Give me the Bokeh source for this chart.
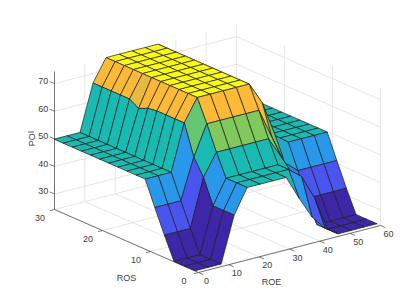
from bokeh.plotting import figure
from bokeh.embed import file_html
from bokeh.resources import INLINE
from bokeh.core.properties import value

# ---- data ----
ROE = [0, 4.29, 8.57, 12.86, 17.14, 21.43, 25.71, 30, 34.29, 38.57, 42.86, 47.14, 51.43, 55.71, 60]
ROS = [0.7, 2.9, 5.1, 7.1, 9.1, 11.1, 13, 14.9, 16.8, 18.7, 20.6, 22.5, 24.4, 26.3, 28.2, 30.1]
low = [24.5, 24.5, 24.5, 32.5, 41, 49.8, 49.8, 49.8, 49.8, 49.8, 49.8, 49.8, 49.8, 49.8, 49.8, 49.8]
top = [49.8, 49.8, 49.8, 57.7, 66.5, 74.5, 74.5, 74.5, 74.5, 74.5, 74.5, 74.5, 74.5, 74.5, 74.5, 74.5]
POI = [
    low,
    low,
    low,
    [41, 41, 41, 49.8, 55.6, 66.5, 66.5, 66.5, 66.5, 66, 64.5, 66.5, 66.5, 66.5, 66.5, 66.5],
    top,
    top,
    top,
    top,
    [41, 49.8, 49.8, 57.7, 66.5, 74.5, 74.5, 74.5, 74.5, 74.5, 74.5, 74.5, 74.5, 74.5, 74.5, 74.5],
    [33, 46, 46, 49.8, 55.6, 66.5, 66.5, 66.5, 66.5, 66.5, 66.5, 66.5, 66.5, 66.5, 66.5, 66.5],
    [27.7, 37, 37, 37, 45, 53.4, 53.4, 53.4, 53.4, 53.4, 53.4, 53.4, 53.4, 53.4, 53.4, 53.4],
    low,
    low,
    low,
    low,
]
ROE_TICKS = [0, 10, 20, 30, 40, 50, 60]
ROS_TICKS = [0, 10, 20, 30]
POI_TICKS = [30, 40, 50, 60, 70]
ROE_LIM = (0, 60)
ROS_LIM = (0, 30)
POI_LIM = (24.4, 74.4)
CMAP_T = [0, 0.16, 0.32, 0.50, 0.66, 0.83, 1.0]
CMAP_RGB = [(0x3e, 0x26, 0xa8), (0x4a, 0x55, 0xf0), (0x2a, 0x96, 0xee), (0x15, 0xb9, 0xb5),
            (0x7c, 0xc9, 0x5e), (0xfd, 0xb5, 0x3a), (0xf9, 0xfb, 0x15)]


# ---- orthographic view of the box ----
def px(e, s):
    return 198 + e * 182 / 60 - s * 144 / 30


def py(e, s, z):
    return 272 - e * 47 / 60 - s * 63 / 30 - (z - POI_LIM[0]) * 138 / 50


def color(z):
    t = (z - 24.5) / 50
    for k in range(len(CMAP_T) - 1):
        if t <= CMAP_T[k + 1]:
            f = (t - CMAP_T[k]) / (CMAP_T[k + 1] - CMAP_T[k])
            c = [round(a + f * (b - a)) for a, b in zip(CMAP_RGB[k], CMAP_RGB[k + 1])]
            return "#%02x%02x%02x" % tuple(c)
    return "#f9fb15"


p = figure(width=402, height=290, x_range=(0, 402), y_range=(290, 0), output_backend="svg",
           toolbar_location=None, min_border=0, outline_line_color=None)
p.axis.visible = False
p.grid.visible = False
p.background_fill_color = "white"

# ---- grid on floor and walls ----
E0, E1 = ROE_LIM
S0, S1 = ROS_LIM
Z0, Z1 = POI_LIM
gx, gy = [], []


def seg(a, b):
    gx.append([px(a[0], a[1]), px(b[0], b[1])])
    gy.append([py(*a), py(*b)])


for e in ROE_TICKS:
    seg((e, S0, Z0), (e, S1, Z0))
    seg((e, S1, Z0), (e, S1, Z1))
for s in ROS_TICKS:
    seg((E0, s, Z0), (E1, s, Z0))
    seg((E1, s, Z0), (E1, s, Z1))
for z in POI_TICKS:
    seg((E0, S1, z), (E1, S1, z))
    seg((E1, S1, z), (E1, S0, z))
p.multi_line(gx, gy, line_color="#e6e6e6", line_width=1)

# ---- axes ----
ax, ay = [], []
for a, b in [((E0, S0, Z0), (E1, S0, Z0)), ((E0, S0, Z0), (E0, S1, Z0)), ((E0, S1, Z0), (E0, S1, Z1))]:
    ax.append([px(a[0], a[1]), px(b[0], b[1])])
    ay.append([py(*a), py(*b)])
for e in ROE_TICKS:
    a, b = (e, S0, Z0), (e, S0 - 1.0, Z0)
    ax.append([px(a[0], a[1]), px(b[0], b[1])])
    ay.append([py(*a), py(*b)])
for s in ROS_TICKS:
    a, b = (E0, s, Z0), (E0 - 1.5, s, Z0)
    ax.append([px(a[0], a[1]), px(b[0], b[1])])
    ay.append([py(*a), py(*b)])
for z in POI_TICKS:
    a, b = (E0, S1, z), (E0, S1 + 1.0, z)
    ax.append([px(a[0], a[1]), px(b[0], b[1])])
    ay.append([py(*a), py(*b)])
p.multi_line(ax, ay, line_color="#555555", line_width=0.8)

# ---- surface, far to near ----
qx, qy, qc = [], [], []
for i in range(len(ROE) - 2, -1, -1):
    for j in range(len(ROS) - 2, -1, -1):
        corners = [(i, j), (i + 1, j), (i + 1, j + 1), (i, j + 1)]
        qx.append([px(ROE[a], ROS[b]) for a, b in corners])
        qy.append([py(ROE[a], ROS[b], POI[a][b]) for a, b in corners])
        qc.append(color(POI[i][j]))
p.patches(qx, qy, fill_color=qc, line_color="#1c1c1c", line_width=0.7)

# ---- texts ----
font = value("Liberation Sans")
tc = "#404040"
p.text([px(e, 0) + 8 for e in ROE_TICKS], [py(e, 0, Z0) + 8.5 for e in ROE_TICKS],
       text=[str(e) for e in ROE_TICKS], text_font=font, text_font_size="9px", text_color=tc,
       text_align="center", text_baseline="middle")
p.text([px(0, s) - 14.5 for s in ROS_TICKS], [py(0, s, Z0) + 8 for s in ROS_TICKS],
       text=[str(s) for s in ROS_TICKS], text_font=font, text_font_size="9px", text_color=tc,
       text_align="center", text_baseline="middle")
p.text([px(E0, S1 + 1.3) for z in POI_TICKS], [py(E0, S1 + 1.3, z) for z in POI_TICKS],
       text=[str(z) for z in POI_TICKS], text_font=font, text_font_size="9px", text_color=tc,
       text_align="right", text_baseline="middle")
p.text([126], [277], text=["ROS"], text_font=font, text_font_size="9px", text_color=tc,
       text_align="center", text_baseline="middle")
p.text([271], [281], text=["ROE"], text_font=font, text_font_size="9px", text_color=tc,
       text_align="center", text_baseline="middle")
p.text([31], [138], text=["POI"], text_font=font, text_font_size="9px", text_color=tc, angle=1.5708,
       text_align="center", text_baseline="middle")

open("out.html", "w").write(file_html(p, INLINE))
